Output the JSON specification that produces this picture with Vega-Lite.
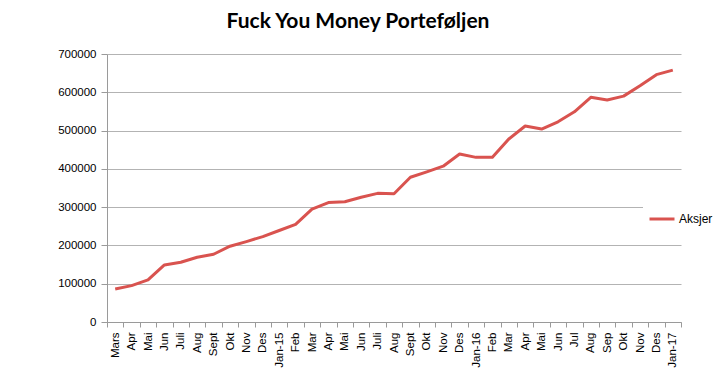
{
  "$schema": "https://vega.github.io/schema/vega-lite/v6.json",
  "width": 574,
  "height": 268,
  "autosize": {"type": "none"},
  "padding": {"left": 107, "top": 54, "right": 34, "bottom": 63},
  "background": "white",
  "title": {
    "text": "Fuck You Money Porteføljen",
    "font": "Lato",
    "fontSize": 21,
    "fontWeight": "bold",
    "color": "#000000",
    "anchor": "middle",
    "dx": -36,
    "offset": 16
  },
  "data": {
    "values": [
      {"i": 1, "maned": "Mars", "serie": "Aksjer", "verdi": 86000},
      {"i": 2, "maned": "Apr", "serie": "Aksjer", "verdi": 95000},
      {"i": 3, "maned": "Mai", "serie": "Aksjer", "verdi": 110000},
      {"i": 4, "maned": "Jun", "serie": "Aksjer", "verdi": 149000},
      {"i": 5, "maned": "Juli", "serie": "Aksjer", "verdi": 156000},
      {"i": 6, "maned": "Aug", "serie": "Aksjer", "verdi": 169000},
      {"i": 7, "maned": "Sept", "serie": "Aksjer", "verdi": 177000},
      {"i": 8, "maned": "Okt", "serie": "Aksjer", "verdi": 198000},
      {"i": 9, "maned": "Nov", "serie": "Aksjer", "verdi": 210000},
      {"i": 10, "maned": "Des", "serie": "Aksjer", "verdi": 223000},
      {"i": 11, "maned": "Jan-15", "serie": "Aksjer", "verdi": 239000},
      {"i": 12, "maned": "Feb", "serie": "Aksjer", "verdi": 255000},
      {"i": 13, "maned": "Mar", "serie": "Aksjer", "verdi": 295000},
      {"i": 14, "maned": "Apr", "serie": "Aksjer", "verdi": 312000},
      {"i": 15, "maned": "Mai", "serie": "Aksjer", "verdi": 314000},
      {"i": 16, "maned": "Jun", "serie": "Aksjer", "verdi": 326000},
      {"i": 17, "maned": "Juli", "serie": "Aksjer", "verdi": 336000},
      {"i": 18, "maned": "Aug", "serie": "Aksjer", "verdi": 335000},
      {"i": 19, "maned": "Sept", "serie": "Aksjer", "verdi": 378000},
      {"i": 20, "maned": "Okt", "serie": "Aksjer", "verdi": 392000},
      {"i": 21, "maned": "Nov", "serie": "Aksjer", "verdi": 407000},
      {"i": 22, "maned": "Des", "serie": "Aksjer", "verdi": 439000},
      {"i": 23, "maned": "Jan-16", "serie": "Aksjer", "verdi": 430000},
      {"i": 24, "maned": "Feb", "serie": "Aksjer", "verdi": 430000},
      {"i": 25, "maned": "Mar", "serie": "Aksjer", "verdi": 478000},
      {"i": 26, "maned": "Apr", "serie": "Aksjer", "verdi": 512000},
      {"i": 27, "maned": "Mai", "serie": "Aksjer", "verdi": 504000},
      {"i": 28, "maned": "Jun", "serie": "Aksjer", "verdi": 523000},
      {"i": 29, "maned": "Jul", "serie": "Aksjer", "verdi": 549000},
      {"i": 30, "maned": "Aug", "serie": "Aksjer", "verdi": 587000},
      {"i": 31, "maned": "Sep", "serie": "Aksjer", "verdi": 580000},
      {"i": 32, "maned": "Okt", "serie": "Aksjer", "verdi": 590000},
      {"i": 33, "maned": "Nov", "serie": "Aksjer", "verdi": 617000},
      {"i": 34, "maned": "Des", "serie": "Aksjer", "verdi": 646000},
      {"i": 35, "maned": "Jan-17", "serie": "Aksjer", "verdi": 658000}
    ]
  },
  "mark": {"type": "line", "strokeWidth": 3, "strokeJoin": "round"},
  "encoding": {
    "x": {
      "field": "i",
      "type": "ordinal",
      "bandPosition": 0.5,
      "scale": {"type": "band", "paddingInner": 0, "paddingOuter": 0},
      "axis": {
        "title": null,
        "labelAngle": 270,
        "labelFont": "Liberation Sans",
        "labelFontSize": 11.5,
        "labelColor": "#000000",
        "labelPadding": 5,
        "tickBand": "extent",
        "tickColor": "#9a9a9a",
        "tickSize": 5,
        "domainColor": "#9a9a9a",
        "grid": false,
        "labelExpr": "['Mars','Apr','Mai','Jun','Juli','Aug','Sept','Okt','Nov','Des','Jan-15','Feb','Mar','Apr','Mai','Jun','Juli','Aug','Sept','Okt','Nov','Des','Jan-16','Feb','Mar','Apr','Mai','Jun','Jul','Aug','Sep','Okt','Nov','Des','Jan-17'][datum.value - 1]"
      }
    },
    "y": {
      "field": "verdi",
      "type": "quantitative",
      "scale": {"domain": [0, 700000], "nice": false},
      "axis": {
        "title": null,
        "values": [0, 100000, 200000, 300000, 400000, 500000, 600000, 700000],
        "format": "d",
        "labelFont": "Liberation Sans",
        "labelFontSize": 11.5,
        "labelColor": "#000000",
        "labelPadding": 5,
        "tickColor": "#9a9a9a",
        "tickSize": 6,
        "domainColor": "#9a9a9a",
        "gridColor": "#b3b3b3",
        "gridWidth": 1
      }
    },
    "color": {
      "field": "serie",
      "type": "nominal",
      "scale": {"range": ["#d9534f"]},
      "legend": {
        "title": null,
        "orient": "none",
        "legendX": 536,
        "legendY": 146,
        "fillColor": "white",
        "padding": 5,
        "symbolType": "stroke",
        "symbolSize": 625,
        "symbolStrokeWidth": 3,
        "labelFont": "Liberation Sans",
        "labelFontSize": 12,
        "labelColor": "#000000",
        "labelOffset": 3
      }
    }
  },
  "config": {"view": {"stroke": null}}
}
